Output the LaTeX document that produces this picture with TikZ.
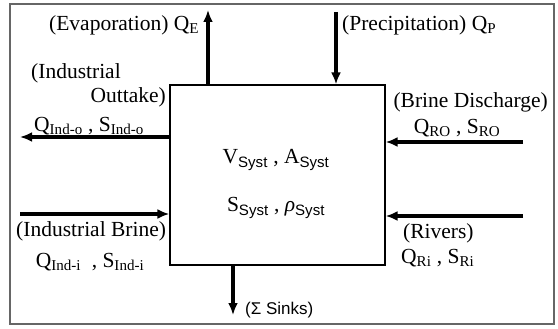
\documentclass[tikz,border=0pt]{standalone}
\usepackage{fontspec}
\setmainfont{Liberation Serif}
\setsansfont{Liberation Sans}
\usetikzlibrary{arrows.meta}
\newcommand{\lo}[1]{\textsubscript{#1}}
\newcommand{\syst}{\textsubscript{\sffamily Syst}}
\begin{document}
\begin{tikzpicture}[x=1pt,y=-1pt,
    flow/.style={-{Latex[length=12pt,width=10pt]},line width=3.5pt},
    lbl/.style={inner sep=0pt,font=\fontsize{21.5}{24}\selectfont}]
  \useasboundingbox (0,0) rectangle (558,329);
  \draw[line width=1.5pt,gray!80!black] (10,4) rectangle (554,324);

  % System
  \node[draw,line width=1.2pt,minimum width=215pt,minimum height=180pt] (syst) at (277.5,175) {};
  \node[lbl] (vsyst) at (276,160) {V\syst\ , A\syst};
  \node[lbl] (ssyst) at (276,208) {S\syst\ , {\itshape ρ}\syst};

  % Evaporation
  \coordinate (evap) at (208,10);
  \draw[flow] (evap |- syst.north) -- (evap);
  \node[lbl,anchor=west] (evaplbl) at (49,25) {(Evaporation) Q\lo{E}};

  % Precipitation
  \coordinate (prec) at (336,12);
  \draw[flow] (prec) -- (prec |- syst.north);
  \node[lbl,anchor=west] (preclbl) at (342,25) {(Precipitation) Q\lo{P}};

  % Industrial outtake
  \coordinate (indo) at (20,137);
  \draw[flow] (indo -| syst.west) -- (indo);
  \node[lbl,anchor=west] (indolbla) at (31,73) {(Industrial};
  \node[lbl,anchor=east] (indolblb) at (166,97) {Outtake)};
  \node[lbl,anchor=west] (indolblc) at (34,126) {Q\lo{Ind-o} , S\lo{Ind-o}};

  % Brine discharge
  \coordinate (brine) at (523,142);
  \draw[flow] (brine) -- (brine -| syst.east);
  \node[lbl,anchor=east] (brinelbla) at (548,102) {(Brine Discharge)};
  \node[lbl] (brinelblb) at (457,128) {Q\lo{RO} , S\lo{RO}};

  % Industrial brine
  \coordinate (indi) at (20,214);
  \draw[flow] (indi) -- (indi -| syst.west);
  \node[lbl,anchor=west] (indilbla) at (16,231) {(Industrial Brine)};
  \node[lbl] (indilblb) at (90,262) {Q\lo{Ind-i}\ \ , S\lo{Ind-i}};

  % Rivers
  \coordinate (rivers) at (523,216);
  \draw[flow] (rivers) -- (rivers -| syst.east);
  \node[lbl,anchor=west] (riverslbla) at (403,233) {(Rivers)};
  \node[lbl,anchor=west] (riverslblb) at (401,258) {Q\lo{Ri} , S\lo{Ri}};

  % Sinks
  \coordinate (sinks) at (233,315);
  \draw[flow] (sinks |- syst.south) -- (sinks);
  \node[inner sep=0pt,anchor=west,font=\sffamily\fontsize{17}{20}\selectfont] (sinkslbl) at (245,310) {(Σ Sinks)};
\end{tikzpicture}
\end{document}
